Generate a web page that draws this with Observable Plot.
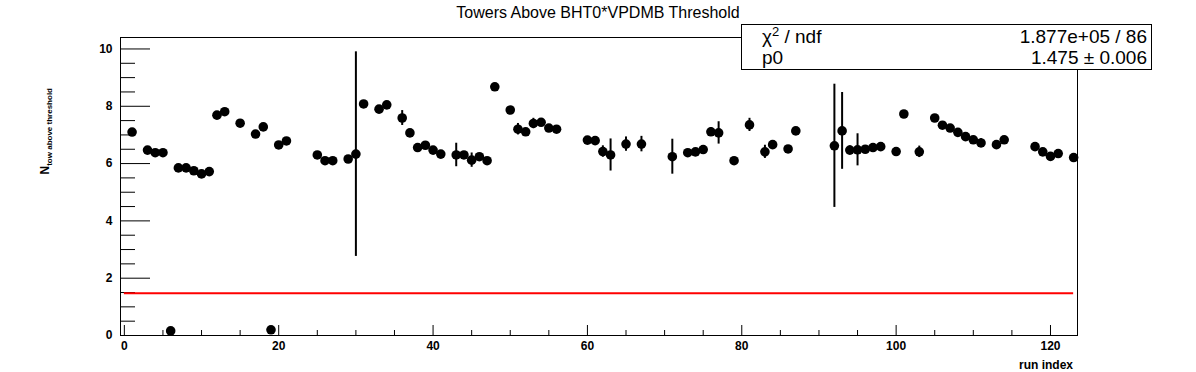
<!DOCTYPE html>
<html>
<head>
<meta charset="utf-8">
<script src="https://cdn.jsdelivr.net/npm/d3@7"></script>
<script src="https://cdn.jsdelivr.net/npm/@observablehq/plot@0.6"></script>
<style>
  html, body { margin: 0; padding: 0; background: #fff; }
  svg { font-family: "Liberation Sans", Arial, sans-serif; }
</style>
</head>
<body>
<div id="chart"></div>
<script>
const runIndex = [1,3,4,5,6,7,8,9,10,11,12,13,15,17,18,19,20,21,
  25,26,27,29,30,31,33,34,36,37,38,39,40,41,43,44,45,46,47,48,
  50,51,52,53,54,55,56,60,61,62,63,65,67,71,73,
  74,75,76,77,79,81,83,84,86,87,92,93,94,95,96,97,98,
  100,101,103,105,106,107,108,109,110,111,113,114,118,119,120,121,123];
const towers = [7.10,6.47,6.38,6.38,0.16,5.85,5.85,5.75,5.64,5.72,7.69,7.81,7.41,7.03,7.28,0.20,6.65,6.79,
  6.30,6.10,6.10,6.16,6.33,8.08,7.90,8.05,7.59,7.07,6.56,6.64,6.47,6.33,6.30,6.30,6.12,6.24,6.10,8.68,
  7.87,7.20,7.11,7.40,7.44,7.24,7.20,6.82,6.80,6.42,6.30,6.68,6.68,6.24,6.38,
  6.41,6.49,7.11,7.07,6.10,7.35,6.41,6.66,6.51,7.14,6.62,7.14,6.47,6.48,6.50,6.56,6.59,
  6.42,7.73,6.41,7.59,7.34,7.24,7.09,6.94,6.83,6.72,6.66,6.83,6.59,6.41,6.25,6.35,6.21];
const towerErr = [0.05,0.05,0.05,0.05,0.05,0.05,0.05,0.05,0.05,0.05,0.05,0.05,0.05,0.05,0.05,0.05,0.05,0.05,
  0.05,0.05,0.05,0.05,3.57,0.05,0.05,0.05,0.26,0.05,0.05,0.05,0.05,0.05,0.41,0.05,0.25,0.05,0.05,0.05,
  0.05,0.20,0.05,0.18,0.05,0.05,0.05,0.05,0.05,0.20,0.56,0.25,0.27,0.61,0.05,
  0.05,0.12,0.15,0.39,0.05,0.23,0.23,0.05,0.05,0.05,2.15,1.34,0.15,0.56,0.05,0.05,0.05,
  0.10,0.05,0.20,0.05,0.05,0.05,0.05,0.05,0.05,0.15,0.05,0.05,0.05,0.05,0.05,0.05,0.05];
const fitP0 = 1.475;
const fitRange = [0, 123];
const xMajor = [0,20,40,60,80,100,120];
const xMinor = [5,10,15,25,30,35,45,50,55,65,70,75,85,90,95,105,110,115];
const yMajor = [0,2,4,6,8,10];
const yMinor = [0.5,1,1.5,2.5,3,3.5,4.5,5,5.5,6.5,7,7.5,8.5,9,9.5];
const titleText = "Towers Above BHT0*VPDMB Threshold";
const statsValues = ["1.877e+05 / 86", "1.475 ± 0.006"];

const W = 1196, H = 372;
const mL = 120, mR = 119, mT = 37, mB = 37;
const pw = W - mL - mR, ph = H - mT - mB;

const data = runIndex.map((r, i) => ({x: r, y: towers[i], e: towerErr[i]}));

const plot = Plot.plot({
  width: W, height: H,
  marginLeft: mL, marginRight: mR, marginTop: mT, marginBottom: mB,
  style: {fontFamily: "Liberation Sans, Arial, sans-serif", background: "#fff"},
  x: {domain: [-0.5, 123.5], axis: null, label: null},
  y: {domain: [0, 10.4], axis: null, label: null},
  marks: [
    Plot.tickY(yMajor, {y: d => d, stroke: "#000", strokeWidth: 1, insetRight: pw - 30}),
    Plot.tickY(yMinor, {y: d => d, stroke: "#000", strokeWidth: 1, insetRight: pw - 15}),
    Plot.tickX(xMajor, {x: d => d, stroke: "#000", strokeWidth: 1, insetTop: ph - 10}),
    Plot.tickX(xMinor, {x: d => d, stroke: "#000", strokeWidth: 1, insetTop: ph - 5}),
    Plot.axisY({ticks: yMajor, tickSize: 0, tickPadding: 8, fontSize: 12, fontWeight: "bold", label: null, tickFormat: d3.format("d")}),
    Plot.axisX({ticks: xMajor, tickSize: 0, tickPadding: 6, fontSize: 12, fontWeight: "bold", label: null, tickFormat: d3.format("d")}),
    Plot.ruleY([fitP0], {y: d => d, x1: fitRange[0], x2: fitRange[1], stroke: "#ff0000", strokeWidth: 2}),
    Plot.ruleX(data, {x: "x", y1: d => d.y - d.e, y2: d => d.y + d.e, stroke: "#000", strokeWidth: 2}),
    Plot.dot(data, {x: "x", y: "y", r: 4.8, fill: "#000", stroke: "none"}),
    Plot.frame({stroke: "#000", strokeWidth: 1})
  ]
});

const svg = d3.select(plot);
svg.append("text").attr("x", W / 2).attr("y", 18).attr("text-anchor", "middle")
  .attr("font-size", 16).attr("fill", "#000").text(titleText);

// stats box
const bx = 741, by = 24, bw = 410, bh = 45;
svg.append("rect").attr("x", bx + 0.5).attr("y", by + 0.5).attr("width", bw).attr("height", bh)
  .attr("fill", "#fff").attr("stroke", "#000").attr("stroke-width", 1);
const rowY = [by + 19, by + 40];
const chi = svg.append("text").attr("x", bx + 21).attr("y", rowY[0]).attr("text-anchor", "start")
  .attr("font-size", 19).attr("fill", "#000");
chi.append("tspan").text("χ");
chi.append("tspan").attr("font-size", 13).attr("dy", -7).text("2");
chi.append("tspan").attr("dy", 7).text(" / ndf");
svg.append("text").attr("x", bx + 21).attr("y", rowY[1]).attr("text-anchor", "start")
  .attr("font-size", 19).attr("fill", "#000").text("p0");
statsValues.forEach((v, i) => {
  svg.append("text").attr("x", 1147).attr("y", rowY[i]).attr("text-anchor", "end")
    .attr("font-size", 19).attr("fill", "#000").text(v);
});

// axis titles
svg.append("text").attr("x", mL + pw - 4).attr("y", 369).attr("text-anchor", "end")
  .attr("font-size", 12).attr("font-weight", "bold").attr("fill", "#000").text("run index");
const yt = svg.append("text").attr("transform", "translate(49,88) rotate(-90)").attr("text-anchor", "end")
  .attr("font-weight", "bold").attr("fill", "#000");
yt.append("tspan").attr("font-size", 12).text("N");
yt.append("tspan").attr("font-size", 8).attr("dy", 3).text("tow above threshold");

document.getElementById("chart").appendChild(plot);
</script>
</body>
</html>
